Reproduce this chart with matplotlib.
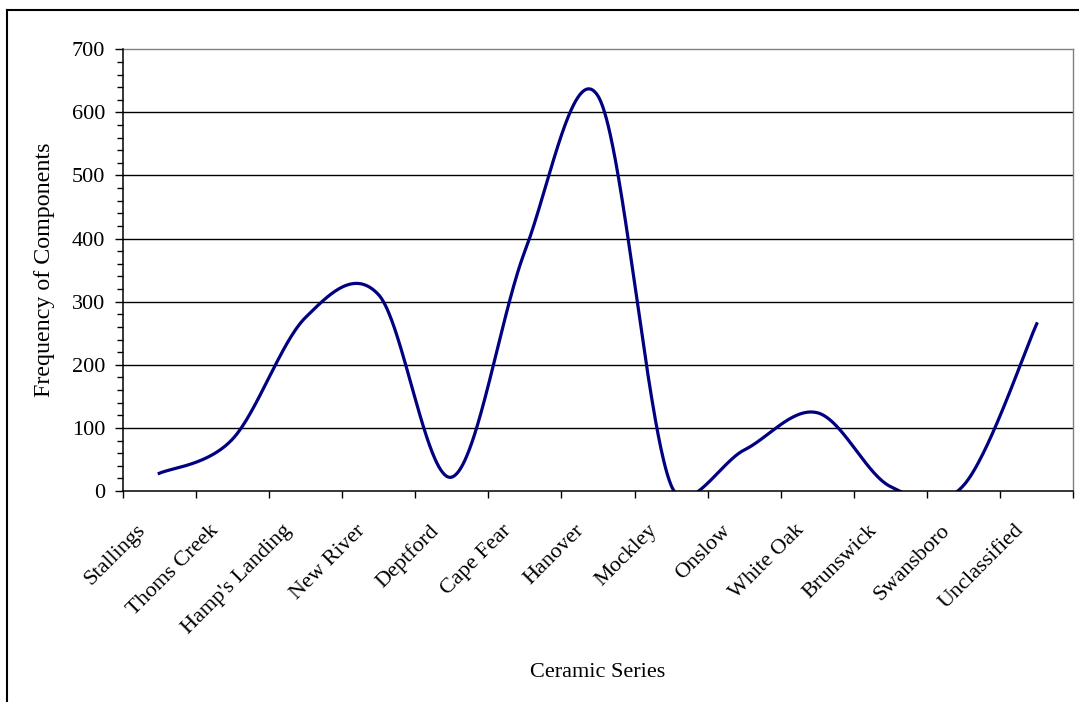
import numpy as np
import matplotlib
matplotlib.use("Agg")
import matplotlib.pyplot as plt
from matplotlib.transforms import ScaledTranslation
from matplotlib.lines import Line2D

# Ceramic series and their component counts
categories = ["Stallings", "Thoms Creek", "Hamp's Landing", "New River", "Deptford",
              "Cape Fear", "Hanover", "Mockley", "Onslow", "White Oak",
              "Brunswick", "Swansboro", "Unclassified"]
frequency = [28, 82, 275, 311, 22, 380, 626, 9, 65, 124, 7, 9, 265]
y_ticks = [0, 100, 200, 300, 400, 500, 600, 700]

W, H = 1079, 702
plt.rcParams['font.family'] = ['Liberation Serif', 'DejaVu Serif']

fig = plt.figure(figsize=(W / 100, H / 100), dpi=100)
fig.patch.set_facecolor('white')

L, R, T, B = 122.7, 1073.3, 49.3, 491.0
ax = fig.add_axes([L / W, 1 - B / H, (R - L) / W, (B - T) / H])
ax.set_xlim(-0.5, len(categories) - 0.5)
ax.set_ylim(y_ticks[0], y_ticks[-1])


def smooth_curve(xs, ys, axes, n=80):
    """Spreadsheet-style smoothed line: cubic Bezier segments built in
    display space, control arms limited to half of each segment."""
    pts = axes.transData.transform(np.column_stack([xs, ys]))
    m = len(pts)
    parts = []
    for i in range(m - 1):
        p0, p1 = pts[i], pts[i + 1]
        prev = pts[i - 1] if i > 0 else pts[i]
        nxt = pts[i + 2] if i + 2 < m else pts[i + 1]
        seg = np.hypot(*(p1 - p0))
        a0 = (p1 - prev) / 6.0
        a1 = (nxt - p0) / 6.0
        for a in (a0, a1):
            ln = np.hypot(*a)
            if ln > seg / 2:
                a *= (seg / 2) / ln
        c0 = p0 + a0
        c1 = p1 - a1
        s = np.linspace(0, 1, n)[:, None]
        b = ((1 - s) ** 3) * p0 + 3 * ((1 - s) ** 2) * s * c0 \
            + 3 * (1 - s) * (s ** 2) * c1 + (s ** 3) * p1
        parts.append(b if i == m - 2 else b[:-1])
    return axes.transData.inverted().transform(np.vstack(parts))


x = np.arange(len(categories))
curve = smooth_curve(x, frequency, ax)

# horizontal gridlines
for yv in y_ticks[1:-1]:
    ax.axhline(yv, color='black', lw=1.0, zorder=1)

ax.plot(curve[:, 0], curve[:, 1], color='#000080', lw=2.3,
        solid_joinstyle='round', zorder=3)

# spines
for side in ('left', 'bottom'):
    ax.spines[side].set_color('black')
    ax.spines[side].set_linewidth(1.1)
for side in ('top', 'right'):
    ax.spines[side].set_color('#808080')
    ax.spines[side].set_linewidth(1.0)
ax.spines['left'].set_zorder(4)
ax.spines['bottom'].set_zorder(4)

# y axis ticks
ax.set_yticks(y_ticks)
ax.set_yticklabels([str(v) for v in y_ticks])
ax.set_yticks(np.arange(0, 701, 20), minor=True)
ax.tick_params(axis='y', which='major', direction='out', length=5.8, width=1.0,
               pad=6.8, labelsize=16, colors='black')
ax.tick_params(axis='y', which='minor', direction='out', length=4.3, width=1.0)

# x axis: tick marks between categories, labels at category centres
ax.set_xticks(np.arange(-0.5, len(categories), 1.0))
ax.set_xticklabels([])
ax.set_xticks(x, minor=True)
ax.set_xticklabels(categories, minor=True, rotation=45, ha='right', va='top',
                   rotation_mode='anchor')
ax.tick_params(axis='x', which='major', direction='out', length=5.0, width=1.0)
ax.tick_params(axis='x', which='minor', length=0, pad=21.6, labelsize=16)
shift = ScaledTranslation(-23 / 100, 0, fig.dpi_scale_trans)
for lab in ax.get_xticklabels(minor=True):
    lab.set_transform(lab.get_transform() + shift)

# axis titles
fig.text(45 / W, 1 - 270 / H, 'Frequency of Components', rotation=90,
         ha='center', va='center', fontsize=17.3)
fig.text(598 / W, 1 - 677 / H, 'Ceramic Series', ha='center', va='baseline',
         fontsize=16)

# chart frame
fig.add_artist(Line2D([7 / W, 7 / W], [0, 1 - 10 / H], color='black', lw=1.5,
                      transform=fig.transFigure))
fig.add_artist(Line2D([7 / W, 1], [1 - 10 / H, 1 - 10 / H], color='black', lw=1.5,
                      transform=fig.transFigure))

fig.savefig('out.png', dpi=100)
